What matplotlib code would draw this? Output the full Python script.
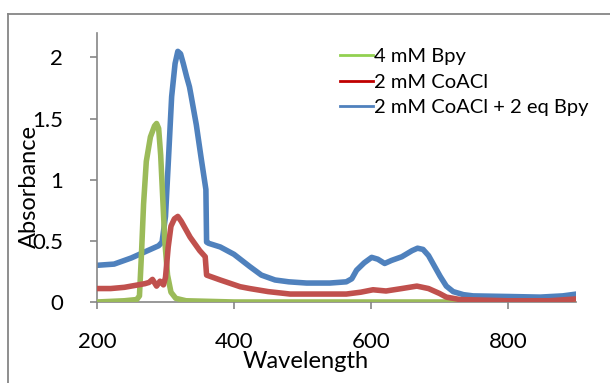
import matplotlib.pyplot as plt
from matplotlib.lines import Line2D

plt.rcParams['font.family'] = ['Lato', 'DejaVu Sans']

# 4 mM Bpy
wl_bpy = [200, 240, 258, 262, 265, 268, 272, 278, 284, 287, 290, 293, 296, 299, 303, 308, 315, 330, 400, 900]
abs_bpy = [0.0, 0.01, 0.02, 0.05, 0.40, 0.80, 1.15, 1.35, 1.44, 1.46, 1.42, 1.20, 0.85, 0.50, 0.22, 0.08, 0.03, 0.01, 0.0, 0.0]

# 2 mM CoACl
wl_co = [200, 220, 240, 260, 270, 276, 281, 287, 292, 297, 300, 304, 308, 313, 318, 323, 336, 350, 358,
         360, 380, 409, 423, 450, 482, 564, 585, 603, 622, 645, 667, 684, 700, 710, 730, 800, 860, 900]
abs_co = [0.11, 0.11, 0.12, 0.14, 0.15, 0.16, 0.185, 0.13, 0.17, 0.14, 0.20, 0.45, 0.62, 0.68, 0.70, 0.66, 0.53, 0.42, 0.37,
          0.22, 0.18, 0.125, 0.11, 0.085, 0.065, 0.065, 0.08, 0.10, 0.09, 0.11, 0.13, 0.11, 0.07, 0.04, 0.02, 0.01, 0.01, 0.025]

# 2 mM CoACl + 2 eq Bpy
wl_mix = [200, 225, 250, 270, 290, 295, 300, 304, 309, 314, 318, 322, 326, 331, 335, 337, 345, 352, 359,
          360, 363, 380, 400, 423, 440, 460, 480, 506, 540, 564, 572, 579, 590, 601, 610, 620, 630, 645, 660,
          668, 676, 684, 692, 701, 710, 720, 735, 749, 800, 847, 880, 900]
abs_mix = [0.30, 0.31, 0.36, 0.41, 0.46, 0.49, 0.70, 1.13, 1.68, 1.95, 2.05, 2.03, 1.95, 1.84, 1.76, 1.70, 1.45, 1.18, 0.92,
           0.49, 0.48, 0.45, 0.39, 0.29, 0.22, 0.18, 0.165, 0.155, 0.155, 0.165, 0.19, 0.26, 0.32, 0.365, 0.35, 0.315, 0.34, 0.37, 0.42,
           0.44, 0.43, 0.38, 0.30, 0.21, 0.13, 0.085, 0.06, 0.05, 0.045, 0.04, 0.05, 0.065]

labels = ['4 mM Bpy', '2 mM CoACl', '2 mM CoACl + 2 eq Bpy']
line_cols = ['#9BBB59', '#C0504D', '#4F81BD']
legend_cols = ['#92D050', '#C00000', '#4F81BD']

fig = plt.figure(figsize=(6.1, 3.83), dpi=100)
ax = fig.add_axes([0.159, 0.2115, 0.786, 0.7023])

kw = dict(lw=4, solid_capstyle='round', solid_joinstyle='round')
ax.plot(wl_mix, abs_mix, color=line_cols[2], zorder=2, **kw)
ax.plot(wl_bpy, abs_bpy, color=line_cols[0], zorder=3, **kw)
ax.plot(wl_co, abs_co, color=line_cols[1], zorder=4, **kw)

ax.set_xlim(200, 900)
ax.set_ylim(0, 2.2)
ax.set_xticks([200, 400, 600, 800])
ax.set_yticks([0, 0.5, 1, 1.5, 2])
ax.set_yticklabels(['0', '0.5', '1', '1.5', '2'])
ax.tick_params(axis='both', direction='out', length=5, width=1.2, color='#868686', labelsize=16)
ax.tick_params(axis='y', pad=19.5)
ax.tick_params(axis='x', pad=16.5)
for s in ['top', 'right']:
    ax.spines[s].set_visible(False)
for s in ['left', 'bottom']:
    ax.spines[s].set_color('#868686')
    ax.spines[s].set_linewidth(1.2)

ax.set_xlabel('Wavelength', fontsize=17)
ax.set_ylabel('Absorbance', fontsize=17)
ax.xaxis.set_label_coords(0.436, -0.181)
ax.yaxis.set_label_coords(-0.12, 0.431)

handles = [Line2D([], [], color=c, lw=2) for c in legend_cols]
ax.legend(handles, labels, loc='upper left', bbox_to_anchor=(0.507, 0.945), frameon=False,
          fontsize=14.5, handlelength=1.65, handletextpad=0.05, labelspacing=0.43, borderpad=0,
          borderaxespad=0)

# outer chart border (cut off at right and bottom)
fig.add_artist(Line2D([8 / 610, 8 / 610], [0, 1 - 14 / 383], color='#868686', lw=1.3))
fig.add_artist(Line2D([8 / 610, 1], [1 - 14 / 383, 1 - 14 / 383], color='#868686', lw=1.3))

plt.savefig('out.png', dpi=100)
